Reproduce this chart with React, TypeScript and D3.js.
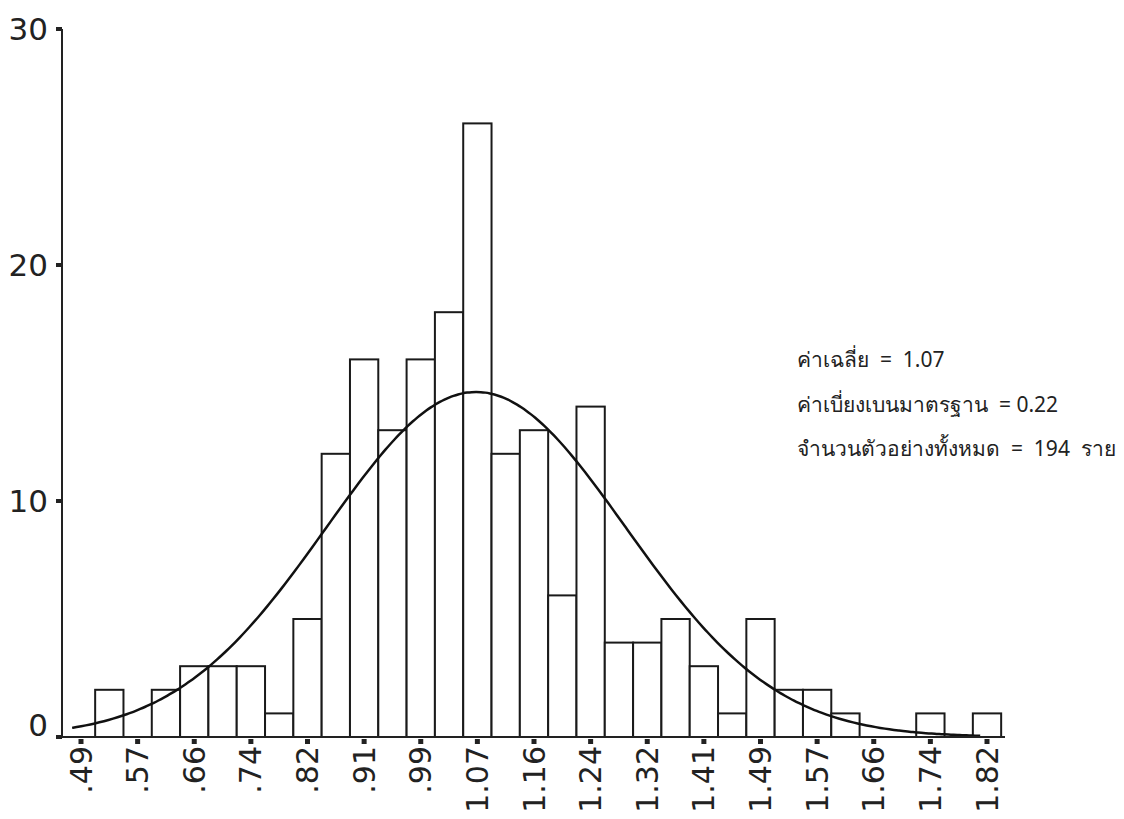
import React, { useRef, useEffect } from 'react';
import * as d3 from 'd3';

// histogram bins: first centre, last centre, counts per bin
const binFirst = 0.49;
const binLast = 1.82;
const counts = [0, 2, 0, 2, 3, 3, 3, 1, 5, 12, 16, 13, 16, 18, 26, 12, 13, 6, 14, 4, 4, 5, 3, 1, 5, 2, 2, 1, 0, 0, 1, 0, 1];
const tickLabels = ['.49', '.57', '.66', '.74', '.82', '.91', '.99', '1.07', '1.16', '1.24', '1.32', '1.41', '1.49', '1.57', '1.66', '1.74', '1.82'];
const yTicks = [0, 10, 20, 30];

// normal curve parameters
const mean = 1.07;
const sd = 0.22;
const n = 194;
const curveRange = [0.477, 1.81];

const notes = [
  'ค่าเฉลี่ย  =  1.07',
  'ค่าเบี่ยงเบนมาตรฐาน  = 0.22',
  'จำนวนตัวอย่างทั้งหมด  =  194  ราย',
];

const App = () => {
  const svgRef = useRef(null);

  useEffect(() => {
    const w = 1124;
    const h = 819;
    const svg = d3.select(svgRef.current).attr('width', w).attr('height', h);
    svg.selectAll('*').remove();

    const binW = (binLast - binFirst) / (counts.length - 1);
    const x = d3.scaleLinear().domain([binFirst, binLast]).range([81, 987]);
    const y = d3.scaleLinear().domain([0, 30]).range([737, 29]);
    const bw = x(binFirst + binW) - x(binFirst);

    // bars
    svg
      .append('g')
      .selectAll('rect')
      .data(counts)
      .join('rect')
      .attr('x', (d, i) => x(binFirst + i * binW) - bw / 2)
      .attr('y', (d) => y(d))
      .attr('width', bw)
      .attr('height', (d) => y(0) - y(d))
      .attr('fill', 'white')
      .attr('stroke', '#1a1a1a')
      .attr('stroke-width', 2);

    // normal curve
    const pdf = (v) =>
      (n * binW) / (sd * Math.sqrt(2 * Math.PI)) * Math.exp(-0.5 * ((v - mean) / sd) ** 2);
    const pts = d3.range(0, 201).map((i) => {
      const v = curveRange[0] + ((curveRange[1] - curveRange[0]) * i) / 200;
      return [x(v), y(pdf(v))];
    });
    svg
      .append('path')
      .attr('d', d3.line().curve(d3.curveBasis)(pts))
      .attr('fill', 'none')
      .attr('stroke', '#111')
      .attr('stroke-width', 2.5);

    // axes lines
    svg.append('line').attr('x1', 62).attr('x2', 62).attr('y1', y(30)).attr('y2', y(0) + 1)
      .attr('stroke', '#222').attr('stroke-width', 2);
    svg.append('line').attr('x1', 62).attr('x2', 1005).attr('y1', y(0)).attr('y2', y(0))
      .attr('stroke', '#222').attr('stroke-width', 2);

    // y ticks
    const yg = svg.append('g');
    yg.selectAll('rect')
      .data(yTicks)
      .join('rect')
      .attr('x', 56)
      .attr('y', (d) => y(d) - 2)
      .attr('width', 6)
      .attr('height', 4)
      .attr('fill', '#222');
    yg.selectAll('text')
      .data(yTicks)
      .join('text')
      .attr('x', 48)
      .attr('y', (d) => y(d) + (d === 0 ? -12 : 0))
      .attr('text-anchor', 'end')
      .attr('dominant-baseline', 'central')
      .attr('font-family', 'DejaVu Sans, sans-serif')
      .attr('font-size', 31)
      .attr('fill', '#222')
      .text((d) => d);

    // x ticks (every other bin)
    const xg = svg.append('g');
    const tickVals = tickLabels.map((t, i) => binFirst + i * 2 * binW);
    xg.selectAll('rect')
      .data(tickVals)
      .join('rect')
      .attr('x', (d) => x(d) - 2.5)
      .attr('y', y(0) + 2)
      .attr('width', 5)
      .attr('height', 5)
      .attr('fill', '#222');
    xg.selectAll('text')
      .data(tickLabels)
      .join('text')
      .attr('transform', (d, i) => `translate(${x(tickVals[i])},746) rotate(-90)`)
      .attr('text-anchor', 'end')
      .attr('dominant-baseline', 'central')
      .attr('font-family', 'DejaVu Sans, sans-serif')
      .attr('font-size', 30)
      .attr('fill', '#222')
      .text((d) => d);

    // annotation
    svg
      .append('g')
      .selectAll('text')
      .data(notes)
      .join('text')
      .attr('x', 797)
      .attr('y', (d, i) => 367 + i * 44.5)
      .attr('font-family', 'Noto Sans, DejaVu Sans, sans-serif')
      .attr('font-size', 21)
      .attr('fill', '#222')
      .style('white-space', 'pre')
      .text((d) => d);
  }, []);

  return (
    <div style={{ position: 'absolute', left: 0, top: 0 }}>
      <svg ref={svgRef}></svg>
    </div>
  );
};

export default App;
